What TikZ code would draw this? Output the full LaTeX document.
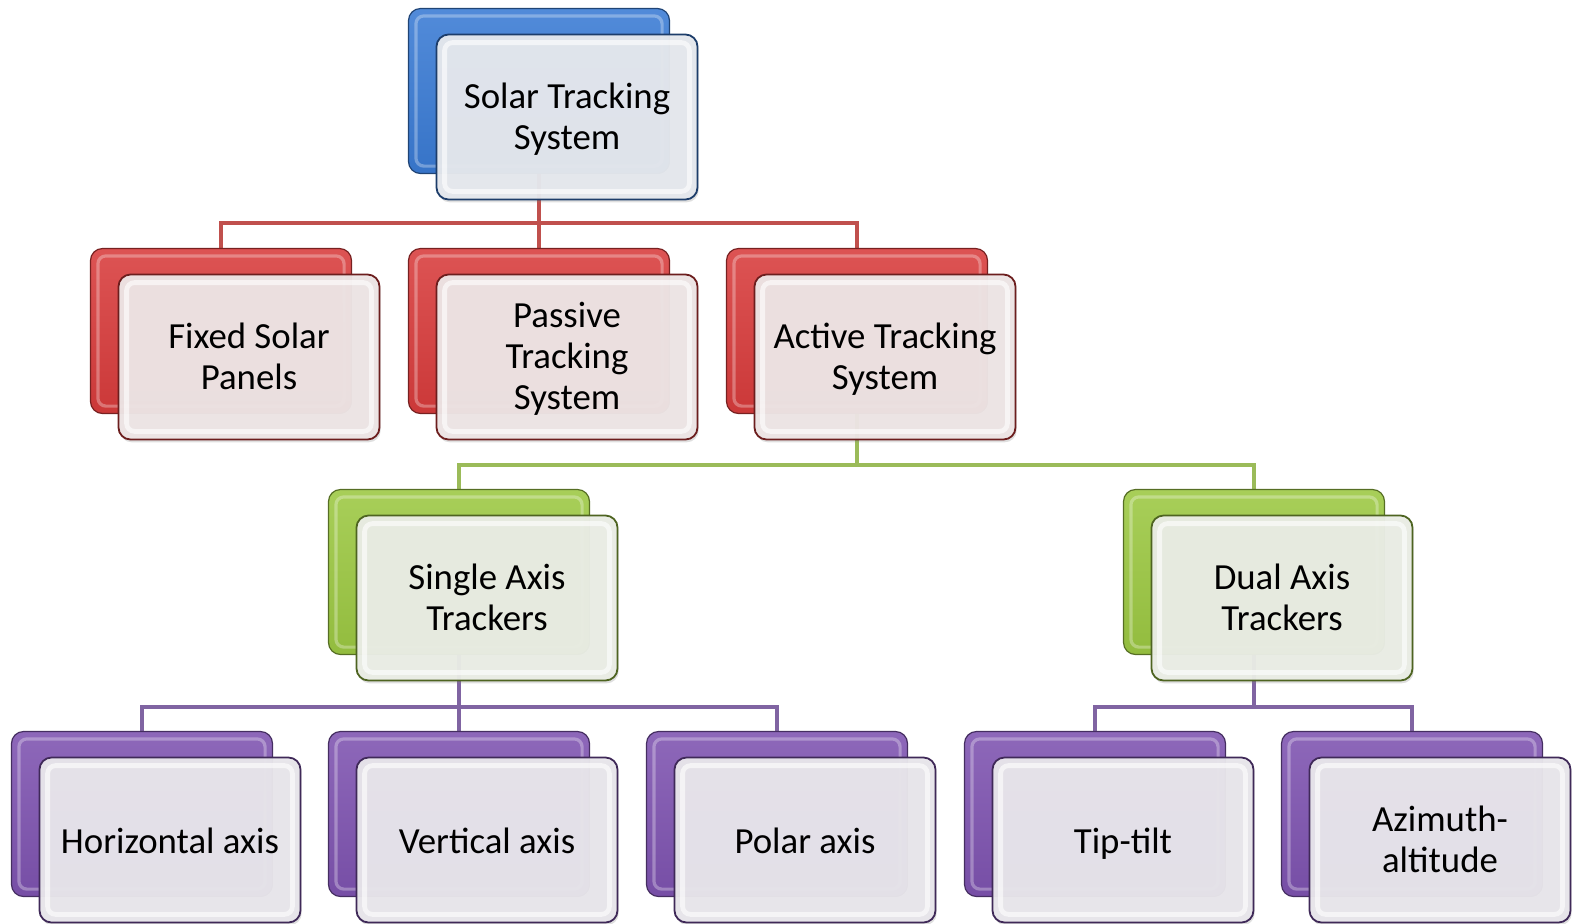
\documentclass[tikz,border=0pt]{standalone}
\usepackage{fontspec}
\setmainfont{Carlito}
\usetikzlibrary{calc,backgrounds,shadows}
\definecolor{stblue}{HTML}{3A7BD4}
\definecolor{stred}{HTML}{D83C3C}
\definecolor{stgreen}{HTML}{9CC842}
\definecolor{stviolet}{HTML}{7E53B0}
\definecolor{lnred}{HTML}{C0504D}
\definecolor{lngreen}{HTML}{9BBB59}
\definecolor{lnviolet}{HTML}{8064A2}
\tikzset{
  card/.style={rounded corners=6pt, minimum width=130.5pt, minimum height=82.5pt, inner sep=0pt},
  bk/.style={card, draw=#1!55!black, line width=0.6pt, top color=#1!88!white, bottom color=#1!94!black},
  fr/.style={card, draw=#1!50!black, line width=0.9pt, fill=#1!6!white!94!black, fill opacity=0.96,
    drop shadow={opacity=0.25, shadow xshift=0.6pt, shadow yshift=-1.4pt}},
  txt/.style={align=center, inner sep=0pt, font=\fontsize{18.4}{20.6}\selectfont,
    execute at begin node=\strut, execute at end node=\strut},
  glint/.style={draw=white, line width=2.4pt, opacity=0.6, rounded corners=4pt},
  shine/.style={draw=white, line width=1.6pt, opacity=0.3, rounded corners=4pt},
  ln/.style={line width=2pt, draw=#1},
}

\begin{document}
\begin{tikzpicture}[x=0.5pt, y=-0.5pt]
  \useasboundingbox (0,0) rectangle (1579,923);
  \coordinate (busA) at (0,223);
  \coordinate (busB) at (0,465);
  \coordinate (busC) at (0,707);
  % each entry: back card (name-b), front card shifted down right, its text (name-t)
  \foreach \n/\x/\y/\c/\t in {
      top/539/91/stblue/{Solar Tracking\\System},
      fixed/221/331/stred/{Fixed Solar\\Panels},
      passive/539/331/stred/{Passive\\Tracking\\System},
      active/857/331/stred/{Active Tracking\\System},
      single/459/572/stgreen/{Single Axis\\Trackers},
      dual/1254/572/stgreen/{Dual Axis\\Trackers},
      horiz/142/814/stviolet/{Horizontal axis},
      vert/459/814/stviolet/{Vertical axis},
      polar/777/814/stviolet/{Polar axis},
      tip/1095/814/stviolet/{Tip-tilt},
      azi/1412/814/stviolet/{Azimuth-\\altitude}} {
    \node[bk=\c] (\n-b) at (\x,\y) {};
    \draw[shine] ($(\n-b.north west)+(4pt,-4pt)$) rectangle ($(\n-b.south east)+(-4pt,4pt)$);
    \node[fr=\c] (\n) at ({\x+28},{\y+26}) {};
    \draw[glint] ($(\n.north west)+(4.5pt,-4.5pt)$) rectangle ($(\n.south east)+(-4.5pt,4.5pt)$);
    \node[txt] (\n-t) at ($(\n.center)+(0,-2.6pt)$) {\t};
  }
  \begin{scope}[on background layer]
    % level 1
    \draw[ln=lnred] (top-b.south) -- (passive-b.north);
    \draw[ln=lnred] (fixed-b.north) |- (active-b.north |- busA) -- (active-b.north);
    % level 2
    \draw[ln=lngreen] (active-b.south) -- (active-b.south |- busB);
    \draw[ln=lngreen] (single-b.north) |- (dual-b.north |- busB) -- (dual-b.north);
    % level 3
    \draw[ln=lnviolet] (single-b.south) -- (vert-b.north);
    \draw[ln=lnviolet] (horiz-b.north) |- (polar-b.north |- busC) -- (polar-b.north);
    \draw[ln=lnviolet] (dual-b.south) -- (dual-b.south |- busC);
    \draw[ln=lnviolet] (tip-b.north) |- (azi-b.north |- busC) -- (azi-b.north);
  \end{scope}
\end{tikzpicture}
\end{document}
